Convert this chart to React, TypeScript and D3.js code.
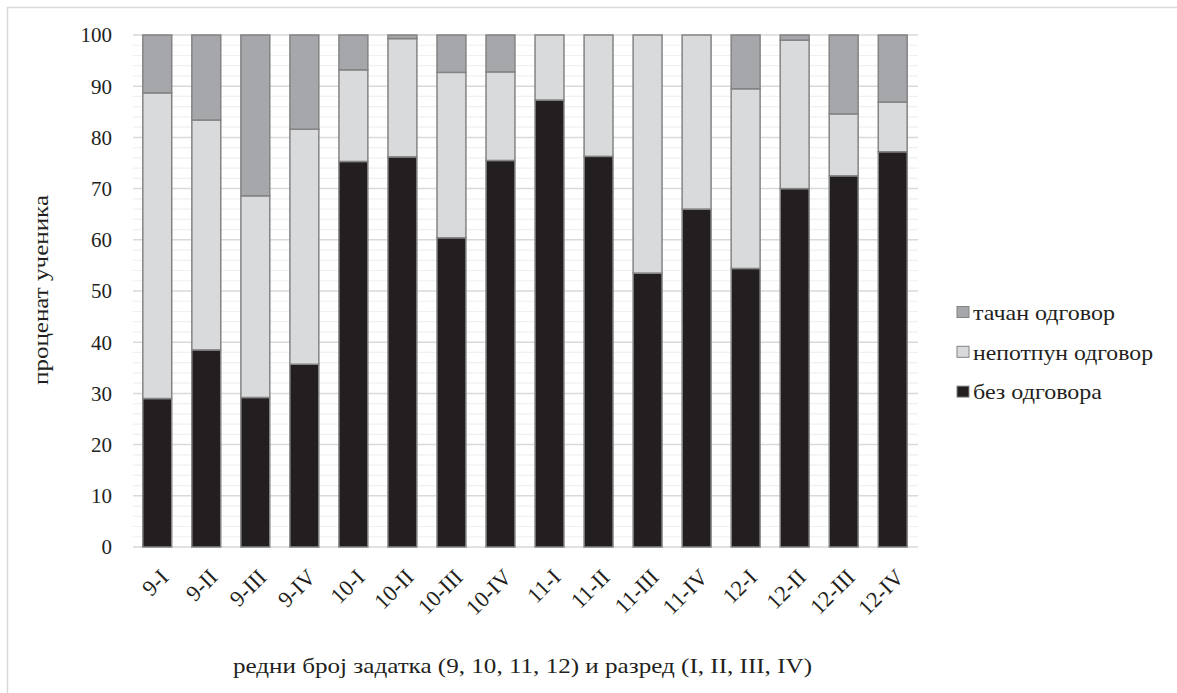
import { useEffect, useRef } from "react";
import * as d3 from "d3";

const categories = [
  "9-I", "9-II", "9-III", "9-IV",
  "10-I", "10-II", "10-III", "10-IV",
  "11-I", "11-II", "11-III", "11-IV",
  "12-I", "12-II", "12-III", "12-IV",
];
// без одговора
const noAnswer = [29.0, 38.5, 29.2, 35.7, 75.3, 76.2, 60.4, 75.5, 87.3, 76.3, 53.5, 66.0, 54.4, 70.0, 72.5, 77.2];
// непотпун одговор
const partial = [59.7, 44.9, 39.4, 45.9, 17.9, 23.1, 32.3, 17.3, 12.7, 23.7, 46.5, 34.0, 35.1, 29.0, 12.1, 9.7];
// тачан одговор
const correct = [11.3, 16.6, 31.4, 18.4, 6.8, 0.7, 7.3, 7.2, 0, 0, 0, 0, 10.5, 1.0, 15.4, 13.1];

const seriesKeys = ["noAnswer", "partial", "correct"];
const seriesNames = ["без одговора", "непотпун одговор", "тачан одговор"];
const seriesColors = ["#231f20", "#d9dadc", "#a6a7aa"];
const yTicks = [0, 10, 20, 30, 40, 50, 60, 70, 80, 90, 100];

const FONT = "'Liberation Serif', 'DejaVu Serif', serif";

export default function App() {
  const ref = useRef<SVGSVGElement | null>(null);

  useEffect(() => {
    if (!ref.current) return;
    const svg = d3.select(ref.current);
    svg.selectAll("*").remove();

    const width = 1177;
    const height = 693;
    const left = 133;
    const right = 917;
    const top = 35;
    const bottom = 547;

    svg.append("rect")
      .attr("x", 7.5).attr("y", 7.5)
      .attr("width", width).attr("height", height)
      .attr("fill", "#fff").attr("stroke", "#d9d9d9").attr("stroke-width", 1.5);

    const table = categories.map((c, i) => ({
      cat: c, noAnswer: noAnswer[i], partial: partial[i], correct: correct[i],
    }));

    const x = d3.scaleBand().domain(categories).range([left, right]).paddingInner(0.41).paddingOuter(0.2);
    const y = d3.scaleLinear().domain([0, 100]).range([bottom, top]);

    // minor grid
    svg.append("g").selectAll("line")
      .data(d3.range(0, 101, 2).filter((v) => v % 10 !== 0))
      .join("line")
      .attr("x1", left).attr("x2", right + 1)
      .attr("y1", (d) => y(d)).attr("y2", (d) => y(d))
      .attr("stroke", "#f0f0f0").attr("stroke-width", 1.2);

    // major grid
    svg.append("g").selectAll("line")
      .data(yTicks)
      .join("line")
      .attr("x1", left).attr("x2", right + 1)
      .attr("y1", (d) => y(d)).attr("y2", (d) => y(d))
      .attr("stroke", "#d9d9d9").attr("stroke-width", 1.5);

    const stacked = d3.stack<any>().keys(seriesKeys)(table);

    svg.append("g").selectAll("g")
      .data(stacked)
      .join("g")
      .attr("fill", (_d, i) => seriesColors[i])
      .selectAll("rect")
      .data((d) => d)
      .join("rect")
      .attr("x", (d: any) => x(d.data.cat)!)
      .attr("width", x.bandwidth())
      .attr("y", (d) => y(d[1]))
      .attr("height", (d) => y(d[0]) - y(d[1]))
      .attr("stroke", "#848484")
      .attr("stroke-width", 1.5);

    // y tick labels
    svg.append("g").selectAll("text")
      .data(yTicks)
      .join("text")
      .attr("x", 112)
      .attr("y", (d) => y(d))
      .attr("dy", "0.35em")
      .attr("text-anchor", "end")
      .attr("font-family", FONT)
      .attr("font-size", 21)
      .attr("fill", "#231f20")
      .text((d) => d);

    // x tick labels
    svg.append("g").selectAll("text")
      .data(categories)
      .join("text")
      .attr("transform", (d) => `translate(${x(d)! + x.bandwidth() / 2 + 7},${bottom + 26}) rotate(-45)`)
      .attr("text-anchor", "end")
      .attr("dy", "0.35em")
      .attr("font-family", FONT)
      .attr("font-size", 22.5)
      .attr("fill", "#231f20")
      .text((d) => d);

    // axis titles
    svg.append("text")
      .attr("transform", `translate(40,290) rotate(-90)`)
      .attr("text-anchor", "middle")
      .attr("dy", "0.35em")
      .attr("font-family", FONT)
      .attr("font-size", 22)
      .attr("textLength", 190)
      .attr("lengthAdjust", "spacingAndGlyphs")
      .attr("fill", "#231f20")
      .text("проценат ученика");

    svg.append("text")
      .attr("x", 522.5)
      .attr("y", 665)
      .attr("text-anchor", "middle")
      .attr("dy", "0.35em")
      .attr("font-family", FONT)
      .attr("font-size", 22)
      .attr("textLength", 579)
      .attr("lengthAdjust", "spacingAndGlyphs")
      .attr("fill", "#231f20")
      .text("редни број задатка (9, 10, 11, 12) и разред (I, II, III, IV)");

    // legend (reverse order: top series first)
    const legendRows = [2, 1, 0];
    const legendWidths = [129, 180, 142];
    const lg = svg.append("g").selectAll("g")
      .data(legendRows)
      .join("g")
      .attr("transform", (_d, i) => `translate(957,${312 + i * 39.8})`);
    lg.append("rect")
      .attr("x", 0).attr("y", -5.5)
      .attr("width", 12).attr("height", 11)
      .attr("fill", (d) => seriesColors[d])
      .attr("stroke", "#848484").attr("stroke-width", 1);
    lg.append("text")
      .attr("x", 16)
      .attr("dy", "0.35em")
      .attr("font-family", FONT)
      .attr("font-size", 22)
      .attr("textLength", (d) => legendWidths[d])
      .attr("lengthAdjust", "spacingAndGlyphs")
      .attr("fill", "#231f20")
      .text((d) => seriesNames[d]);
  }, []);

  return (
    <svg
      ref={ref}
      width={1177}
      height={693}
      style={{ position: "absolute", left: 0, top: 0, background: "#fff" }}
    />
  );
}
